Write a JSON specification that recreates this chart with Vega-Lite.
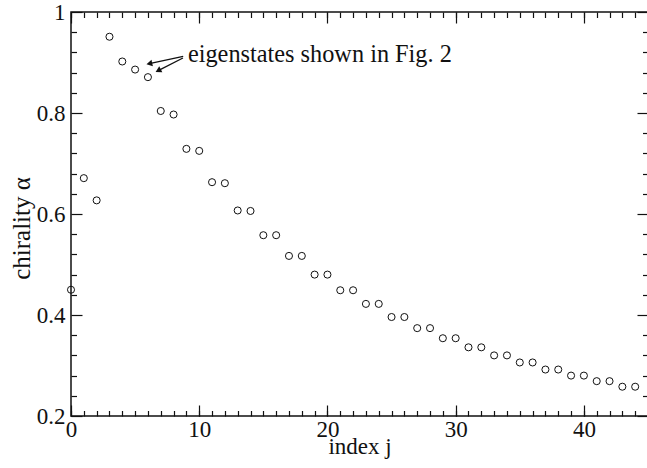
{
  "$schema": "https://vega.github.io/schema/vega-lite/v6.json",
  "width": 577,
  "height": 404,
  "autosize": "none",
  "padding": {"left": 71, "top": 12, "right": 0, "bottom": 52},
  "background": "white",
  "config": {
    "view": {"stroke": "#111", "strokeWidth": 1.5},
    "font": "Liberation Serif, Times New Roman, serif",
    "axis": {
      "domain": false,
      "grid": false,
      "ticks": true,
      "tickColor": "#111",
      "tickWidth": 1.2,
      "tickOpacity": 1,
      "labelColor": "#111",
      "titleColor": "#111",
      "labelFont": "Liberation Serif, Times New Roman, serif",
      "titleFont": "Liberation Serif, Times New Roman, serif",
      "labelFontSize": 23,
      "titleFontSize": 23,
      "titleFontWeight": "normal",
      "labelFlush": false,
      "labelOverlap": false
    }
  },
  "datasets": {
    "chir": [
      {"j": 0, "alpha": 0.450},
      {"j": 1, "alpha": 0.671},
      {"j": 2, "alpha": 0.627},
      {"j": 3, "alpha": 0.951},
      {"j": 4, "alpha": 0.902},
      {"j": 5, "alpha": 0.886},
      {"j": 6, "alpha": 0.871},
      {"j": 7, "alpha": 0.804},
      {"j": 8, "alpha": 0.797},
      {"j": 9, "alpha": 0.729},
      {"j": 10, "alpha": 0.725},
      {"j": 11, "alpha": 0.663},
      {"j": 12, "alpha": 0.661},
      {"j": 13, "alpha": 0.607},
      {"j": 14, "alpha": 0.606},
      {"j": 15, "alpha": 0.558},
      {"j": 16, "alpha": 0.558},
      {"j": 17, "alpha": 0.517},
      {"j": 18, "alpha": 0.517},
      {"j": 19, "alpha": 0.480},
      {"j": 20, "alpha": 0.480},
      {"j": 21, "alpha": 0.449},
      {"j": 22, "alpha": 0.449},
      {"j": 23, "alpha": 0.422},
      {"j": 24, "alpha": 0.422},
      {"j": 25, "alpha": 0.396},
      {"j": 26, "alpha": 0.396},
      {"j": 27, "alpha": 0.374},
      {"j": 28, "alpha": 0.374},
      {"j": 29, "alpha": 0.354},
      {"j": 30, "alpha": 0.354},
      {"j": 31, "alpha": 0.336},
      {"j": 32, "alpha": 0.336},
      {"j": 33, "alpha": 0.320},
      {"j": 34, "alpha": 0.320},
      {"j": 35, "alpha": 0.306},
      {"j": 36, "alpha": 0.306},
      {"j": 37, "alpha": 0.292},
      {"j": 38, "alpha": 0.292},
      {"j": 39, "alpha": 0.280},
      {"j": 40, "alpha": 0.280},
      {"j": 41, "alpha": 0.269},
      {"j": 42, "alpha": 0.269},
      {"j": 43, "alpha": 0.258},
      {"j": 44, "alpha": 0.258}
    ],
    "arrows": [
      {"x1": 8.75, "y1": 0.9123, "x2": 6.11, "y2": 0.8979},
      {"x1": 8.73, "y1": 0.909, "x2": 6.80, "y2": 0.8839}
    ],
    "head1": [{"x": 6.11, "y": 0.8979}],
    "head2": [{"x": 6.80, "y": 0.8839}],
    "note": [{"x": 9.12, "y": 0.9016, "text": "eigenstates shown in Fig. 2"}]
  },
  "resolve": {"axis": {"x": "independent", "y": "independent"}},
  "layer": [
    {
      "data": {"name": "chir"},
      "mark": {"type": "point", "shape": "circle", "filled": false, "stroke": "#111", "strokeWidth": 1, "size": 50, "opacity": 1},
      "encoding": {
        "x": {
          "field": "j", "type": "quantitative",
          "scale": {"domain": [0, 45], "nice": false, "zero": false},
          "axis": {"orient": "bottom", "values": [0, 10, 20, 30, 40], "offset": -11, "tickSize": 11, "labelPadding": 2, "title": "index j", "titleBaseline": "alphabetic", "titleY": 48}
        },
        "y": {
          "field": "alpha", "type": "quantitative",
          "scale": {"domain": [0.2, 1], "nice": false, "zero": false},
          "axis": {"orient": "left", "values": [0.2, 0.4, 0.6, 0.8, 1], "format": "~g", "offset": -11, "tickSize": 11, "labelPadding": 6, "title": "chirality α", "titleFontSize": 25, "titleBaseline": "alphabetic", "titleX": -53, "titleY": 216}
        }
      }
    },
    {
      "data": {"name": "arrows"},
      "mark": {"type": "rule", "stroke": "#111", "strokeWidth": 1.3},
      "encoding": {
        "x": {"field": "x1", "type": "quantitative", "axis": {"orient": "bottom", "values": [0,1,2,3,4,5,6,7,8,9,10,11,12,13,14,15,16,17,18,19,20,21,22,23,24,25,26,27,28,29,30,31,32,33,34,35,36,37,38,39,40,41,42,43,44,45], "offset": -5.5, "tickSize": 5.5, "labels": false, "title": null}},
        "y": {"field": "y1", "type": "quantitative", "axis": {"orient": "left", "values": [0.24,0.28,0.32,0.36,0.44,0.48,0.52,0.56,0.64,0.68,0.72,0.76,0.84,0.88,0.92,0.96], "offset": -5.5, "tickSize": 5.5, "labels": false, "title": null}},
        "x2": {"field": "x2"},
        "y2": {"field": "y2"}
      }
    },
    {
      "data": {"name": "head1"},
      "mark": {"type": "point", "shape": "triangle-up", "filled": true, "color": "#111", "opacity": 1, "size": 45, "angle": 258},
      "encoding": {
        "x": {"field": "x", "type": "quantitative", "axis": {"orient": "top", "values": [0, 10, 20, 30, 40], "offset": -11, "tickSize": 11, "labels": false, "title": null}},
        "y": {"field": "y", "type": "quantitative", "axis": {"orient": "right", "values": [0.2, 0.4, 0.6, 0.8, 1], "offset": -11, "tickSize": 11, "labels": false, "title": null}}
      }
    },
    {
      "data": {"name": "head2"},
      "mark": {"type": "point", "shape": "triangle-up", "filled": true, "color": "#111", "opacity": 1, "size": 45, "angle": 243},
      "encoding": {
        "x": {"field": "x", "type": "quantitative", "axis": {"orient": "top", "values": [0,1,2,3,4,5,6,7,8,9,10,11,12,13,14,15,16,17,18,19,20,21,22,23,24,25,26,27,28,29,30,31,32,33,34,35,36,37,38,39,40,41,42,43,44,45], "offset": -5.5, "tickSize": 5.5, "labels": false, "title": null}},
        "y": {"field": "y", "type": "quantitative", "axis": {"orient": "right", "values": [0.24,0.28,0.32,0.36,0.44,0.48,0.52,0.56,0.64,0.68,0.72,0.76,0.84,0.88,0.92,0.96], "offset": -5.5, "tickSize": 5.5, "labels": false, "title": null}}
      }
    },
    {
      "data": {"name": "note"},
      "mark": {"type": "text", "align": "left", "baseline": "alphabetic", "fontSize": 24.3, "font": "Liberation Serif, Times New Roman, serif", "color": "#111"},
      "encoding": {
        "x": {"field": "x", "type": "quantitative", "axis": null},
        "y": {"field": "y", "type": "quantitative", "axis": null},
        "text": {"field": "text"}
      }
    }
  ]
}
